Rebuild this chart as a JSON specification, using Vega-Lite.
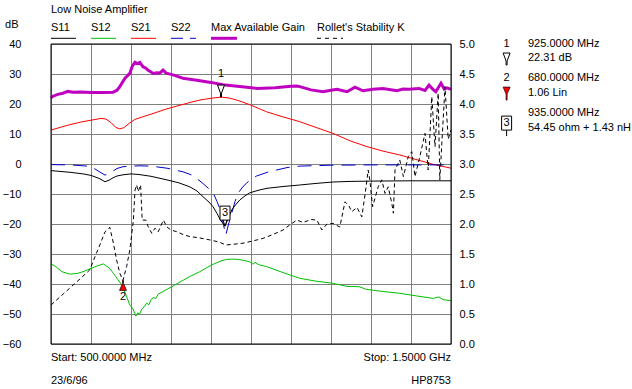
{
  "$schema": "https://vega.github.io/schema/vega-lite/v6.json",
  "width": 400,
  "height": 300,
  "autosize": "none",
  "padding": {"left": 51, "top": 44, "right": 181, "bottom": 45},
  "background": "white",
  "config": {
    "view": {"stroke": null},
    "font": "Liberation Sans",
    "text": {"font": "Liberation Sans", "fontSize": 11, "color": "black", "baseline": "middle"},
    "axis": {"labelFont": "Liberation Sans", "labelFontSize": 11, "labelColor": "black", "gridColor": "#808080", "gridOpacity": 1, "gridWidth": 1, "ticks": false, "domain": false, "title": null}
  },
  "datasets": {
    "S11": [
      {"f": 500, "v": -2.2}, {"f": 525, "v": -2.5}, {"f": 550, "v": -2.8}, {"f": 580, "v": -3.3}, {"f": 600, "v": -3.8},
      {"f": 620, "v": -4.8}, {"f": 635, "v": -5.9}, {"f": 645, "v": -5.4}, {"f": 655, "v": -4.6}, {"f": 665, "v": -4.0},
      {"f": 680, "v": -3.6}, {"f": 700, "v": -3.3}, {"f": 720, "v": -3.5}, {"f": 750, "v": -4.1}, {"f": 790, "v": -5.3},
      {"f": 820, "v": -6.3}, {"f": 847, "v": -7.6}, {"f": 865, "v": -9.0}, {"f": 880, "v": -10.9}, {"f": 895, "v": -12.7},
      {"f": 905, "v": -14.2}, {"f": 915, "v": -16.5}, {"f": 925, "v": -19.0}, {"f": 935, "v": -20.7}, {"f": 945, "v": -17.5},
      {"f": 952, "v": -15.3}, {"f": 962, "v": -13.5}, {"f": 972, "v": -12.0}, {"f": 985, "v": -10.6}, {"f": 997, "v": -9.6},
      {"f": 1020, "v": -8.7}, {"f": 1040, "v": -8.1}, {"f": 1080, "v": -7.5}, {"f": 1122, "v": -7.0}, {"f": 1160, "v": -6.5},
      {"f": 1205, "v": -6.0}, {"f": 1250, "v": -5.8}, {"f": 1300, "v": -5.7}, {"f": 1400, "v": -5.6}, {"f": 1500, "v": -5.6}
    ],
    "S22": [
      {"f": 500, "v": -0.2}, {"f": 550, "v": -0.3}, {"f": 600, "v": -0.8}, {"f": 620, "v": -2.5}, {"f": 635, "v": -3.7},
      {"f": 650, "v": -2.8}, {"f": 665, "v": -1.5}, {"f": 680, "v": -0.9}, {"f": 720, "v": -0.6}, {"f": 750, "v": -0.7},
      {"f": 790, "v": -1.4}, {"f": 830, "v": -2.6}, {"f": 850, "v": -3.6}, {"f": 864, "v": -4.8}, {"f": 880, "v": -6.5},
      {"f": 895, "v": -8.3}, {"f": 906, "v": -9.8}, {"f": 915, "v": -12.5}, {"f": 922, "v": -14.8}, {"f": 930, "v": -19.5},
      {"f": 937, "v": -23.7}, {"f": 944, "v": -20.0}, {"f": 952, "v": -16.3}, {"f": 960, "v": -12.5}, {"f": 968, "v": -9.7},
      {"f": 980, "v": -7.5}, {"f": 989, "v": -6.4}, {"f": 1000, "v": -5.1}, {"f": 1014, "v": -4.0}, {"f": 1040, "v": -2.8},
      {"f": 1064, "v": -2.0}, {"f": 1090, "v": -1.2}, {"f": 1122, "v": -0.7}, {"f": 1200, "v": -0.4}, {"f": 1300, "v": -0.3},
      {"f": 1500, "v": -0.3}
    ],
    "S21": [
      {"f": 500, "v": 11.3}, {"f": 525, "v": 12.3}, {"f": 550, "v": 13.2}, {"f": 575, "v": 14.0}, {"f": 600, "v": 14.6},
      {"f": 625, "v": 15.2}, {"f": 637, "v": 15.0}, {"f": 650, "v": 13.8}, {"f": 662, "v": 12.2}, {"f": 672, "v": 11.7},
      {"f": 682, "v": 12.1}, {"f": 695, "v": 13.5}, {"f": 710, "v": 14.9}, {"f": 750, "v": 16.6}, {"f": 790, "v": 18.4},
      {"f": 850, "v": 20.6}, {"f": 875, "v": 21.4}, {"f": 900, "v": 21.9}, {"f": 925, "v": 22.3}, {"f": 945, "v": 22.0},
      {"f": 960, "v": 21.5}, {"f": 980, "v": 20.6}, {"f": 1000, "v": 19.6}, {"f": 1039, "v": 17.4}, {"f": 1080, "v": 15.7},
      {"f": 1122, "v": 14.1}, {"f": 1160, "v": 12.3}, {"f": 1205, "v": 10.2}, {"f": 1250, "v": 7.6}, {"f": 1290, "v": 5.8},
      {"f": 1330, "v": 4.3}, {"f": 1372, "v": 3.0}, {"f": 1402, "v": 1.9}, {"f": 1455, "v": -0.1}, {"f": 1500, "v": -1.4}
    ],
    "S12": [
      {"f": 500, "v": -33.3}, {"f": 512, "v": -34.2}, {"f": 527, "v": -35.9}, {"f": 547, "v": -36.7}, {"f": 565, "v": -36.5},
      {"f": 580, "v": -35.9}, {"f": 600, "v": -34.8}, {"f": 615, "v": -34.0}, {"f": 631, "v": -33.3}, {"f": 645, "v": -34.6},
      {"f": 656, "v": -36.4}, {"f": 667, "v": -38.5}, {"f": 677, "v": -40.3}, {"f": 687, "v": -43.5}, {"f": 697, "v": -47.0},
      {"f": 705, "v": -48.3}, {"f": 712, "v": -50.7}, {"f": 717, "v": -49.6}, {"f": 721, "v": -50.2}, {"f": 727, "v": -48.3},
      {"f": 733, "v": -47.6}, {"f": 739, "v": -46.4}, {"f": 745, "v": -46.9}, {"f": 750, "v": -45.2}, {"f": 757, "v": -44.4},
      {"f": 761, "v": -45.0}, {"f": 768, "v": -43.4}, {"f": 780, "v": -42.5}, {"f": 802, "v": -40.9}, {"f": 831, "v": -38.7},
      {"f": 850, "v": -37.3}, {"f": 872, "v": -35.9}, {"f": 890, "v": -34.5}, {"f": 906, "v": -33.4}, {"f": 925, "v": -32.3},
      {"f": 939, "v": -31.8}, {"f": 955, "v": -31.7}, {"f": 968, "v": -31.8}, {"f": 985, "v": -32.2}, {"f": 997, "v": -32.6},
      {"f": 1005, "v": -33.4}, {"f": 1010, "v": -32.8}, {"f": 1020, "v": -33.6}, {"f": 1039, "v": -34.2}, {"f": 1080, "v": -36.2},
      {"f": 1122, "v": -38.1}, {"f": 1160, "v": -39.0}, {"f": 1206, "v": -39.8}, {"f": 1240, "v": -40.8}, {"f": 1270, "v": -40.9},
      {"f": 1289, "v": -41.8}, {"f": 1330, "v": -42.5}, {"f": 1372, "v": -43.1}, {"f": 1420, "v": -44.1}, {"f": 1456, "v": -44.8},
      {"f": 1470, "v": -44.3}, {"f": 1480, "v": -45.2}, {"f": 1500, "v": -45.6}
    ],
    "MAG": [
      {"f": 500, "v": 22.0}, {"f": 505, "v": 22.6}, {"f": 517, "v": 23.2}, {"f": 530, "v": 23.6}, {"f": 542, "v": 24.2},
      {"f": 555, "v": 23.9}, {"f": 575, "v": 24.0}, {"f": 600, "v": 23.8}, {"f": 630, "v": 23.8}, {"f": 655, "v": 23.9},
      {"f": 665, "v": 24.6}, {"f": 672, "v": 25.8}, {"f": 685, "v": 28.6}, {"f": 697, "v": 30.2}, {"f": 703, "v": 32.5},
      {"f": 710, "v": 33.9}, {"f": 716, "v": 33.5}, {"f": 722, "v": 33.9}, {"f": 730, "v": 32.4}, {"f": 737, "v": 32.0},
      {"f": 742, "v": 31.3}, {"f": 750, "v": 30.7}, {"f": 755, "v": 30.2}, {"f": 765, "v": 30.4}, {"f": 772, "v": 30.3},
      {"f": 780, "v": 31.3}, {"f": 788, "v": 30.3}, {"f": 805, "v": 29.7}, {"f": 830, "v": 28.6}, {"f": 860, "v": 28.0},
      {"f": 900, "v": 27.2}, {"f": 930, "v": 26.4}, {"f": 960, "v": 26.0}, {"f": 1015, "v": 25.2}, {"f": 1060, "v": 25.4},
      {"f": 1100, "v": 25.9}, {"f": 1114, "v": 26.0}, {"f": 1122, "v": 25.8}, {"f": 1150, "v": 24.7}, {"f": 1180, "v": 24.1},
      {"f": 1200, "v": 24.6}, {"f": 1215, "v": 24.9}, {"f": 1240, "v": 24.1}, {"f": 1260, "v": 25.6}, {"f": 1280, "v": 24.4},
      {"f": 1305, "v": 24.9}, {"f": 1330, "v": 25.2}, {"f": 1365, "v": 24.4}, {"f": 1380, "v": 25.0}, {"f": 1395, "v": 24.9},
      {"f": 1420, "v": 25.2}, {"f": 1435, "v": 24.5}, {"f": 1445, "v": 26.3}, {"f": 1455, "v": 24.9}, {"f": 1462, "v": 24.1},
      {"f": 1475, "v": 26.9}, {"f": 1483, "v": 25.0}, {"f": 1490, "v": 25.4}, {"f": 1500, "v": 24.9}
    ],
    "K": [
      {"f": 500, "k": 0.65}, {"f": 525, "k": 0.80}, {"f": 550, "k": 0.95}, {"f": 575, "k": 1.10}, {"f": 597, "k": 1.235},
      {"f": 610, "k": 1.455}, {"f": 622, "k": 1.65}, {"f": 635, "k": 1.87}, {"f": 647, "k": 1.945}, {"f": 656, "k": 1.68},
      {"f": 664, "k": 1.40}, {"f": 672, "k": 1.18}, {"f": 680, "k": 1.06}, {"f": 689, "k": 1.29}, {"f": 697, "k": 1.565},
      {"f": 706, "k": 2.065}, {"f": 710, "k": 2.565}, {"f": 714, "k": 2.65}, {"f": 718, "k": 2.54}, {"f": 724, "k": 2.65},
      {"f": 728, "k": 2.065}, {"f": 737, "k": 2.065}, {"f": 743, "k": 1.955}, {"f": 752, "k": 1.845}, {"f": 760, "k": 1.93},
      {"f": 768, "k": 1.87}, {"f": 781, "k": 2.065}, {"f": 790, "k": 1.95}, {"f": 800, "k": 1.90}, {"f": 815, "k": 1.87},
      {"f": 830, "k": 1.825}, {"f": 847, "k": 1.79}, {"f": 870, "k": 1.77}, {"f": 897, "k": 1.735}, {"f": 920, "k": 1.70},
      {"f": 937, "k": 1.65}, {"f": 960, "k": 1.665}, {"f": 980, "k": 1.68}, {"f": 1000, "k": 1.71}, {"f": 1030, "k": 1.76},
      {"f": 1055, "k": 1.825}, {"f": 1080, "k": 1.90}, {"f": 1100, "k": 2.0}, {"f": 1115, "k": 2.065}, {"f": 1130, "k": 2.025},
      {"f": 1150, "k": 2.075}, {"f": 1165, "k": 2.065}, {"f": 1177, "k": 1.90}, {"f": 1190, "k": 2.0}, {"f": 1205, "k": 2.01},
      {"f": 1222, "k": 1.95}, {"f": 1235, "k": 2.37}, {"f": 1245, "k": 2.30}, {"f": 1252, "k": 2.205}, {"f": 1265, "k": 2.275},
      {"f": 1277, "k": 2.12}, {"f": 1285, "k": 2.485}, {"f": 1293, "k": 2.90}, {"f": 1297, "k": 2.735}, {"f": 1304, "k": 2.29},
      {"f": 1318, "k": 2.62}, {"f": 1327, "k": 2.735}, {"f": 1335, "k": 2.51}, {"f": 1343, "k": 2.62}, {"f": 1352, "k": 2.345},
      {"f": 1356, "k": 2.18}, {"f": 1360, "k": 2.90}, {"f": 1372, "k": 3.065}, {"f": 1381, "k": 2.79}, {"f": 1393, "k": 3.12},
      {"f": 1402, "k": 3.205}, {"f": 1410, "k": 2.79}, {"f": 1422, "k": 3.12}, {"f": 1435, "k": 3.51}, {"f": 1443, "k": 2.90},
      {"f": 1452, "k": 4.12}, {"f": 1460, "k": 3.29}, {"f": 1468, "k": 4.18}, {"f": 1472, "k": 2.735}, {"f": 1485, "k": 4.29},
      {"f": 1493, "k": 3.415}, {"f": 1500, "k": 3.565}
    ],
    "textLeft": [
      {"t": "Low Noise Amplifier", "f": 500, "v": 51.3},
      {"t": "S11", "f": 500, "v": 45.2},
      {"t": "S12", "f": 600, "v": 45.2},
      {"t": "S21", "f": 700, "v": 45.2},
      {"t": "S22", "f": 800, "v": 45.2},
      {"t": "Max Available Gain", "f": 900, "v": 45.2},
      {"t": "Rollet's Stability K", "f": 1165, "v": 45.2},
      {"t": "Start: 500.0000 MHz", "f": 500, "v": -64.7},
      {"t": "23/6/96", "f": 500, "v": -72.3},
      {"t": "925.0000 MHz", "f": 1692.5, "v": 40},
      {"t": "22.31 dB", "f": 1692.5, "v": 35.2},
      {"t": "680.0000 MHz", "f": 1692.5, "v": 28.6},
      {"t": "1.06 Lin", "f": 1692.5, "v": 23.6},
      {"t": "935.0000 MHz", "f": 1692.5, "v": 16.9},
      {"t": "54.45 ohm + 1.43 nH", "f": 1692.5, "v": 11.9}
    ],
    "textRight": [
      {"t": "Stop: 1.5000 GHz", "f": 1500, "v": -64.7},
      {"t": "HP8753", "f": 1500, "v": -72.3}
    ],
    "textCenter": [
      {"t": "dB", "f": 402, "v": 46.2},
      {"t": "1", "f": 1639, "v": 40},
      {"t": "2", "f": 1639, "v": 28.6},
      {"t": "3", "f": 1639, "v": 13.7}
    ]
  },
  "layer": [
    {
      "encoding": {
        "x": {"field": "f", "type": "quantitative", "scale": {"domain": [500, 1500], "nice": false, "zero": false},
              "axis": {"values": [500, 600, 700, 800, 900, 1000, 1100, 1200, 1300, 1400, 1500], "grid": true, "labels": false, "ticks": false, "domain": false, "title": null}},
        "y": {"field": "v", "type": "quantitative", "scale": {"domain": [-60, 40], "nice": false, "zero": false},
              "axis": {"orient": "left", "values": [-60, -50, -40, -30, -20, -10, 0, 10, 20, 30, 40], "grid": true, "labelPadding": 30, "title": null}}
      },
      "layer": [
        {"data": {"name": "S12"}, "mark": {"type": "line", "color": "#00c000", "strokeWidth": 1}},
        {"data": {"name": "S21"}, "mark": {"type": "line", "color": "#ff0000", "strokeWidth": 1}},
        {"data": {"name": "S22"}, "mark": {"type": "line", "color": "#0000c8", "strokeWidth": 1, "strokeDash": [14, 8]}},
        {"data": {"name": "S11"}, "mark": {"type": "line", "color": "black", "strokeWidth": 1}},
        {"data": {"name": "MAG"}, "mark": {"type": "line", "color": "#c000c0", "strokeWidth": 3}},
        {"data": {"values": [{"f": 500, "f2": 1500, "v": -60, "v2": 40}]}, "mark": {"type": "rect", "fill": "transparent", "stroke": "black", "strokeWidth": 1},
         "encoding": {"x2": {"field": "f2"}, "y2": {"field": "v2"}}},
        {"data": {"values": [{"f": 925, "v": 22.31}]},
         "mark": {"type": "point", "shape": "M-3.5,-12H3.5L0.5,-4V0H-0.5V-4Z", "size": 4, "filled": true, "fill": "white", "stroke": "black", "strokeWidth": 1, "opacity": 1}},
        {"data": {"values": [{"f": 925, "v": 22.31, "t": "1"}]}, "mark": {"type": "text", "dy": -23}, "encoding": {"text": {"field": "t"}}},
        {"data": {"values": [{"f": 935, "v": -20.7}]},
         "mark": {"type": "point", "shape": "M-5,-20H5V-6H-5Z M-2,-6L0,0L2,-6", "size": 4, "filled": true, "fill": "white", "stroke": "black", "strokeWidth": 1, "opacity": 1}},
        {"data": {"values": [{"f": 935, "v": -20.7, "t": "3"}]}, "mark": {"type": "text", "dy": -13}, "encoding": {"text": {"field": "t"}}},
        {"data": {"values": [{"f": 500, "f2": 562.5, "v": 41.9}]}, "mark": {"type": "rule", "color": "black", "strokeWidth": 1},
         "encoding": {"x2": {"field": "f2"}}},
        {"data": {"values": [{"f": 600, "f2": 662.5, "v": 41.9}]}, "mark": {"type": "rule", "color": "#00c000", "strokeWidth": 1},
         "encoding": {"x2": {"field": "f2"}}},
        {"data": {"values": [{"f": 700, "f2": 762.5, "v": 41.9}]}, "mark": {"type": "rule", "color": "#ff0000", "strokeWidth": 1},
         "encoding": {"x2": {"field": "f2"}}},
        {"data": {"values": [{"f": 800, "f2": 862.5, "v": 41.9}]}, "mark": {"type": "rule", "color": "#0000c8", "strokeWidth": 1, "strokeDash": [12, 7]},
         "encoding": {"x2": {"field": "f2"}}},
        {"data": {"values": [{"f": 900, "f2": 965, "v": 41.9}]}, "mark": {"type": "rule", "color": "#c000c0", "strokeWidth": 3},
         "encoding": {"x2": {"field": "f2"}}},
        {"data": {"values": [{"f": 1165, "f2": 1230, "v": 41.9}]}, "mark": {"type": "rule", "color": "black", "strokeWidth": 1, "strokeDash": [4, 4]},
         "encoding": {"x2": {"field": "f2"}}},
        {"data": {"values": [{"f": 1639, "v": 33}]},
         "mark": {"type": "point", "shape": "M-3.5,-12H3.5L0.5,-4V0H-0.5V-4Z", "size": 4, "filled": true, "fill": "white", "stroke": "black", "strokeWidth": 1, "opacity": 1}},
        {"data": {"values": [{"f": 1639, "v": 21.3}]},
         "mark": {"type": "point", "shape": "M-3.5,-13H3.5L0.5,-6V0H-0.5V-6Z", "size": 4, "filled": true, "fill": "#ff0000", "stroke": "black", "strokeWidth": 0.7, "opacity": 1}},
        {"data": {"values": [{"f": 1639, "v": 9.3}]},
         "mark": {"type": "point", "shape": "M-5,-20H5V-6H-5Z M0,-6V0", "size": 4, "filled": true, "fill": "white", "stroke": "black", "strokeWidth": 1, "opacity": 1}},
        {"data": {"name": "textLeft"}, "mark": {"type": "text", "align": "left"}, "encoding": {"text": {"field": "t"}}},
        {"data": {"name": "textRight"}, "mark": {"type": "text", "align": "right"}, "encoding": {"text": {"field": "t"}}},
        {"data": {"name": "textCenter"}, "mark": {"type": "text", "align": "center"}, "encoding": {"text": {"field": "t"}}}
      ]
    },
    {
      "data": {"name": "K"},
      "encoding": {
        "x": {"field": "f", "type": "quantitative", "scale": {"domain": [500, 1500], "nice": false, "zero": false},
              "axis": {"values": [500, 600, 700, 800, 900, 1000, 1100, 1200, 1300, 1400, 1500], "grid": true, "labels": false, "ticks": false, "domain": false, "title": null}},
        "y": {"field": "k", "type": "quantitative", "scale": {"domain": [0, 5], "nice": false, "zero": false},
              "axis": {"orient": "right", "values": [0, 0.5, 1, 1.5, 2, 2.5, 3, 3.5, 4, 4.5, 5], "format": ".1f", "grid": false, "labelPadding": 8, "title": null}}
      },
      "layer": [
        {"mark": {"type": "line", "color": "black", "strokeWidth": 1, "strokeDash": [4, 3]}},
        {"data": {"values": [{"f": 680, "k": 1.06}]},
         "mark": {"type": "point", "shape": "M-0.5,0V3L-3.5,10H3.5L0.5,3V0Z", "size": 4, "filled": true, "fill": "#ff0000", "stroke": "black", "strokeWidth": 0.7, "opacity": 1}},
        {"data": {"values": [{"f": 680, "k": 1.06, "t": "2"}]}, "mark": {"type": "text", "dy": 17}, "encoding": {"text": {"field": "t"}}}
      ]
    }
  ],
  "resolve": {"scale": {"y": "independent"}, "axis": {"y": "independent"}}
}
